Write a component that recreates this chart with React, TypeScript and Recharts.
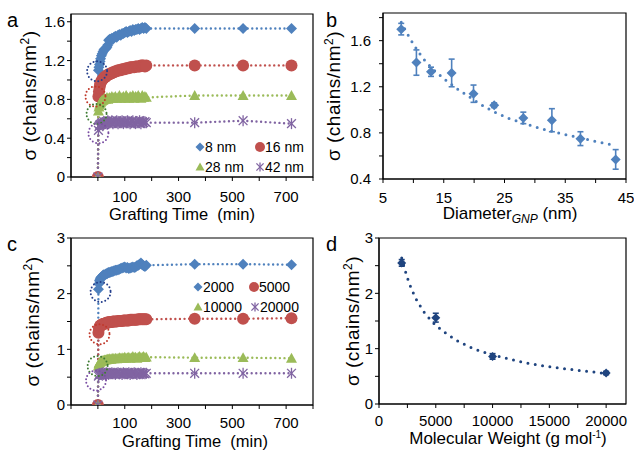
import React from "react";
import {
  ComposedChart,
  ErrorBar,
  Line,
  ReferenceArea,
  ReferenceDot,
  Scatter,
  XAxis,
  YAxis,
} from "recharts";

const FONT = "'Liberation Sans', Arial, Helvetica, sans-serif";

// a + c : grafting kinetics (min)
const graftTime = [
  0, 2, 4, 6, 8, 10, 13, 16, 19, 22, 25, 28, 31, 34, 37, 40,
  44, 48, 52, 56, 60,
  65, 70, 75, 80, 85, 90, 95, 100, 105, 110, 115, 120, 125, 130, 135, 140, 145, 150, 155, 160, 165, 170, 175, 180,
  360, 540, 720,
];

// a : GNP diameter series
const sigma8nm = [
  0, 1.1, 1.13, 1.16, 1.19, 1.22, 1.25, 1.27, 1.29, 1.31, 1.32, 1.32, 1.33, 1.34, 1.36, 1.41,
  1.42, 1.42, 1.43, 1.42, 1.44,
  1.45, 1.44, 1.46, 1.47, 1.46, 1.48, 1.48, 1.49, 1.5, 1.49, 1.5, 1.51, 1.5, 1.52, 1.51, 1.52, 1.52, 1.53, 1.52, 1.53, 1.54, 1.53, 1.54, 1.53,
  1.53, 1.53, 1.53,
];
const sigma16nm = [
  0, 0.83, 0.88, 0.92, 0.95, 0.97, 0.99, 1.0, 1.01, 1.02, 1.03, 1.03, 1.04, 1.05, 1.05, 1.06,
  1.06, 1.07, 1.07, 1.08, 1.08,
  1.09, 1.09, 1.1, 1.1, 1.1, 1.11, 1.11, 1.11, 1.12, 1.12, 1.12, 1.13, 1.13, 1.13, 1.13, 1.14, 1.14, 1.14, 1.14, 1.15, 1.15, 1.15, 1.14, 1.15,
  1.15, 1.15, 1.15,
];
const sigma28nm = [
  0, 0.68, 0.72, 0.74, 0.76, 0.77, 0.78, 0.79, 0.79, 0.8, 0.81, 0.8, 0.81, 0.82, 0.8, 0.81,
  0.82, 0.81, 0.83, 0.81, 0.82,
  0.83, 0.81, 0.82, 0.84, 0.81, 0.82, 0.83, 0.81, 0.84, 0.82, 0.81, 0.83, 0.82, 0.84, 0.81, 0.83, 0.82, 0.84, 0.82, 0.81, 0.84, 0.82, 0.83, 0.82,
  0.84, 0.84, 0.84,
];
const sigma42nm = [
  0, 0.48, 0.52, 0.53, 0.54, 0.54, 0.55, 0.56, 0.55, 0.57, 0.56, 0.55, 0.57, 0.56, 0.58, 0.55,
  0.57, 0.56, 0.58, 0.55, 0.57,
  0.56, 0.58, 0.55, 0.57, 0.56, 0.58, 0.55, 0.57, 0.56, 0.58, 0.56, 0.55, 0.57, 0.58, 0.56, 0.55, 0.57, 0.56, 0.58, 0.55, 0.57, 0.56, 0.57, 0.56,
  0.56, 0.58, 0.55,
];

// c : PEG molecular weight series
const sigma2000 = [
  0, 2.08, 2.18, 2.23, 2.26, 2.28, 2.3, 2.31, 2.33, 2.34, 2.33, 2.35, 2.36, 2.36, 2.37, 2.38,
  2.38, 2.39, 2.4, 2.4, 2.41,
  2.42, 2.42, 2.43, 2.44, 2.45, 2.46, 2.47, 2.48, 2.46, 2.47, 2.45, 2.46, 2.47, 2.48, 2.47, 2.48, 2.5, 2.51, 2.53, 2.55, 2.52, 2.5, 2.49, 2.51,
  2.53, 2.53, 2.52,
];
const sigma5000 = [
  0, 1.3, 1.37, 1.4, 1.42, 1.43, 1.44, 1.45, 1.45, 1.46, 1.46, 1.47, 1.47, 1.48, 1.48, 1.48,
  1.49, 1.49, 1.49, 1.5, 1.5,
  1.5, 1.5, 1.51, 1.51, 1.51, 1.51, 1.52, 1.52, 1.52, 1.52, 1.52, 1.53, 1.53, 1.53, 1.53, 1.53, 1.53, 1.54, 1.54, 1.54, 1.54, 1.54, 1.54, 1.54,
  1.55, 1.55, 1.56,
];
const sigma10000 = [
  0, 0.7, 0.74, 0.76, 0.77, 0.78, 0.79, 0.79, 0.8, 0.8, 0.81, 0.81, 0.81, 0.82, 0.82, 0.82,
  0.83, 0.82, 0.83, 0.84, 0.83,
  0.84, 0.83, 0.84, 0.85, 0.84, 0.85, 0.84, 0.86, 0.84, 0.85, 0.86, 0.84, 0.85, 0.87, 0.85, 0.86, 0.84, 0.86, 0.87, 0.85, 0.86, 0.87, 0.85, 0.86,
  0.85, 0.85, 0.84,
];
const sigma20000 = [
  0, 0.52, 0.54, 0.55, 0.56, 0.55, 0.57, 0.56, 0.58, 0.55, 0.57, 0.56, 0.58, 0.56, 0.57, 0.55,
  0.57, 0.56, 0.58, 0.56, 0.57,
  0.55, 0.57, 0.58, 0.56, 0.57, 0.55, 0.58, 0.56, 0.57, 0.56, 0.58, 0.55, 0.57, 0.56, 0.58, 0.57, 0.55, 0.57, 0.56, 0.58, 0.56, 0.57, 0.56, 0.57,
  0.57, 0.57, 0.57,
];

const timeTicks = [-100, 0, 100, 200, 300, 400, 500, 600, 700, 800];
const timeTickLabels = ["", "", "100", "", "300", "", "500", "", "700", ""];
const sigmaTicksA = [0, 0.2, 0.4, 0.6, 0.8, 1, 1.2, 1.4, 1.6];
const sigmaTickLabelsA = ["0", "", "0.4", "", "0.8", "", "1.2", "", "1.6"];
const sigmaTicksC = [0, 0.5, 1, 1.5, 2, 2.5, 3];
const sigmaTickLabelsC = ["0", "", "1", "", "2", "", "3"];

// dotted rings around the first grafting points
const ringTimeA = [-3, -9, -5, 2];
const ringSigmaA = [1.09, 0.83, 0.65, 0.45];
const ringTimeC = [10, 6, -1, -7];
const ringSigmaC = [2.03, 1.27, 0.7, 0.44];

// b : density vs GNP diameter
const diameter = [8.0, 10.5, 12.9, 16.3, 19.9, 23.3, 28.1, 32.8, 37.5, 43.3];
const sigmaDiam = [1.7, 1.41, 1.33, 1.32, 1.14, 1.04, 0.93, 0.91, 0.75, 0.57];
const sigmaDiamErr = [0.05, 0.11, 0.04, 0.12, 0.075, 0.02, 0.05, 0.1, 0.06, 0.085];
const fitDiameter = [8, 9, 10, 11, 12, 13.5, 15, 17, 19, 21, 23, 25.5, 28, 30.5, 33, 35.5, 38, 40.5, 42.5];
const fitSigmaDiam = [1.76, 1.66, 1.57, 1.49, 1.42, 1.34, 1.27, 1.19, 1.12, 1.05, 0.99, 0.93, 0.885, 0.845, 0.81, 0.78, 0.75, 0.72, 0.7];
const diamTicks = [5, 10, 15, 20, 25, 30, 35, 40, 45];
const diamTickLabels = ["5", "", "15", "", "25", "", "35", "", "45"];
const sigmaTicksB = [0.4, 0.6, 0.8, 1, 1.2, 1.4, 1.6, 1.8];
const sigmaTickLabelsB = ["0.4", "", "0.8", "", "1.2", "", "1.6", ""];

// d : density vs molecular weight
const molWeight = [2000, 5000, 10000, 20000];
const sigmaMw = [2.55, 1.56, 0.86, 0.56];
const sigmaMwErr = [0.06, 0.08, 0.05, 0.03];
const fitMw = [2000, 2250, 2500, 2800, 3200, 3600, 4000, 4500, 5000, 6000, 7000, 8000, 9000, 10000, 11500, 13000, 14500, 16000, 17500, 19000, 20000];
const fitSigmaMw = [2.64, 2.45, 2.28, 2.11, 1.92, 1.78, 1.65, 1.53, 1.42, 1.26, 1.13, 1.03, 0.95, 0.89, 0.81, 0.74, 0.69, 0.645, 0.61, 0.575, 0.55];
const mwTicks = [0, 2500, 5000, 7500, 10000, 12500, 15000, 17500, 20000];
const mwTickLabels = ["0", "", "5000", "", "10000", "", "15000", "", "20000"];

const BLUE = "#4F81BD";
const RED = "#C0504D";
const GREEN = "#9BBB59";
const PURPLE = "#8064A2";
const NAVY = "#1F447F";

type Shape = "diamond" | "circle" | "triangle" | "star";

function Marker({ shape, cx, cy, color, s }: { shape: Shape; cx: number; cy: number; color: string; s: number }) {
  if (cx == null || cy == null) return null;
  if (shape === "diamond")
    return <polygon points={`${cx},${cy - s} ${cx + s},${cy} ${cx},${cy + s} ${cx - s},${cy}`} fill={color} />;
  if (shape === "circle") return <circle cx={cx} cy={cy} r={s + 0.5} fill={color} />;
  if (shape === "triangle")
    return <polygon points={`${cx},${cy - s} ${cx + s},${cy + s * 0.8} ${cx - s},${cy + s * 0.8}`} fill={color} />;
  const d = s * 0.8;
  return (
    <g stroke={color} strokeWidth={1.3}>
      <line x1={cx - d} y1={cy - d} x2={cx + d} y2={cy + d} />
      <line x1={cx - d} y1={cy + d} x2={cx + d} y2={cy - d} />
      <line x1={cx} y1={cy - s} x2={cx} y2={cy + s} />
    </g>
  );
}

const pts = (xs: number[], ys: number[], es?: number[]) =>
  xs.map((x, i) => ({ x, y: ys[i], e: es ? es[i] : 0 }));

const fmt = (ticks: number[], labels: string[]) => (v: number) => labels[ticks.indexOf(v)] ?? "";

const tickStyle = { fill: "#000", fontSize: 15, fontFamily: FONT };

const xTitle = (content: React.ReactNode, dy: number, dx: number, size: number) => (props: any) => {
  const { x, y, width } = props.viewBox;
  return (
    <text x={x + width / 2 + dx} y={y + dy} textAnchor="middle" fontFamily={FONT} fontSize={size} fill="#000">
      {content}
    </text>
  );
};

const yTitle = (bx: number) => (props: any) => {
  const { y, height } = props.viewBox;
  const cy = y + height / 2;
  return (
    <text
      x={bx}
      y={cy}
      transform={`rotate(-90 ${bx} ${cy})`}
      textAnchor="middle"
      fontFamily={FONT}
      fontSize={19}
      letterSpacing={0.5}
      fill="#000"
    >
      σ (chains/nm<tspan dy={-7} fontSize={12}>2</tspan>
      <tspan dy={7}>)</tspan>
    </text>
  );
};

type KSeries = { values: number[]; color: string; shape: Shape; ring: string };

function KineticsPanel({
  top,
  marginTop,
  axisHeight,
  series,
  yMax,
  yTicks,
  yLabels,
  ringT,
  ringS,
  titleDy,
  titleDx,
  tickMargin,
  labelX,
}: {
  top: number;
  marginTop: number;
  axisHeight: number;
  series: KSeries[];
  yMax: number;
  yTicks: number[];
  yLabels: string[];
  ringT: number[];
  ringS: number[];
  titleDy: number;
  titleDx: number;
  tickMargin: number;
  labelX: number;
}) {
  return (
    <div style={{ position: "absolute", left: 0, top, width: 317, height: 225 }}>
      <ComposedChart width={317} height={225} margin={{ top: marginTop, right: 4, bottom: 0, left: 0 }}>
        <XAxis
          type="number"
          dataKey="x"
          domain={[-100, 800]}
          ticks={timeTicks}
          interval={0}
          allowDataOverflow
          tickFormatter={fmt(timeTicks, timeTickLabels)}
          height={axisHeight}
          stroke="#000"
          tick={tickStyle}
          tickSize={4}
          tickMargin={tickMargin}
          label={xTitle("Grafting Time\u00a0 (min)", titleDy, titleDx, 16.5)}
        />
        <YAxis
          type="number"
          dataKey="y"
          domain={[0, yMax]}
          ticks={yTicks}
          interval={0}
          allowDataOverflow
          tickFormatter={fmt(yTicks, yLabels)}
          width={71}
          stroke="#000"
          tick={tickStyle}
          tickSize={4}
          tickMargin={2}
          label={yTitle(labelX)}
        />
        <ReferenceArea x1={-100} x2={800} y1={0} y2={yMax} fill="none" stroke="#000" strokeWidth={1.2} />
        {series.map((s, k) => (
          <Line
            key={k}
            data={pts(graftTime, s.values)}
            dataKey="y"
            type="linear"
            stroke={s.color}
            strokeWidth={2.4}
            strokeDasharray="0 4.6"
            strokeLinecap="round"
            isAnimationActive={false}
            dot={(p: any) => <Marker key={`m${k}-${p.index}`} shape={s.shape} cx={p.cx} cy={p.cy} color={s.color} s={5.5} />}
            activeDot={false}
          />
        ))}
        {series.map((s, k) => (
          <ReferenceDot
            key={`r${k}`}
            x={ringT[k]}
            y={ringS[k]}
            r={10}
            fill="none"
            stroke={s.ring}
            strokeWidth={2}
            strokeDasharray="0 3.6"
            strokeLinecap="round"
          />
        ))}
      </ComposedChart>
    </div>
  );
}

const seriesA: KSeries[] = [
  { values: sigma8nm, color: BLUE, shape: "diamond", ring: "#243F8C" },
  { values: sigma16nm, color: RED, shape: "circle", ring: "#C0392B" },
  { values: sigma28nm, color: GREEN, shape: "triangle", ring: "#3E7B33" },
  { values: sigma42nm, color: PURPLE, shape: "star", ring: "#7A4EA3" },
];
const seriesC: KSeries[] = [
  { values: sigma2000, color: BLUE, shape: "diamond", ring: "#243F8C" },
  { values: sigma5000, color: RED, shape: "circle", ring: "#C0392B" },
  { values: sigma10000, color: GREEN, shape: "triangle", ring: "#3E7B33" },
  { values: sigma20000, color: PURPLE, shape: "star", ring: "#7A4EA3" },
];

function FitPanel({
  top,
  yAxisWidth,
  xDomain,
  xTicks,
  xLabels,
  yDomain,
  yTicks,
  yLabels,
  xs,
  ys,
  es,
  fx,
  fy,
  color,
  size,
  title,
  tickMarginX,
  tickMarginY,
  labelX,
}: any) {
  return (
    <div style={{ position: "absolute", left: 317, top, width: 317, height: 225 }}>
      <ComposedChart width={317} height={225} margin={{ top: 13, right: 8, bottom: 0, left: 0 }}>
        <XAxis
          type="number"
          dataKey="x"
          domain={xDomain}
          ticks={xTicks}
          interval={0}
          allowDataOverflow
          tickFormatter={fmt(xTicks, xLabels)}
          height={46}
          stroke="#000"
          tick={tickStyle}
          tickSize={4}
          tickMargin={tickMarginX}
          label={xTitle(title, 40, 5.5, 17)}
        />
        <YAxis
          type="number"
          dataKey="y"
          domain={yDomain}
          ticks={yTicks}
          interval={0}
          allowDataOverflow
          tickFormatter={fmt(yTicks, yLabels)}
          width={yAxisWidth}
          stroke="#000"
          tick={tickStyle}
          tickSize={4}
          tickMargin={tickMarginY}
          label={yTitle(labelX)}
        />
        <ReferenceArea x1={xDomain[0]} x2={xDomain[1]} y1={yDomain[0]} y2={yDomain[1]} fill="none" stroke="#000" strokeWidth={1.2} />
        <Line
          data={pts(fx, fy)}
          dataKey="y"
          type="linear"
          stroke={color}
          strokeWidth={3}
          strokeDasharray="0 7.4"
          strokeLinecap="round"
          dot={false}
          activeDot={false}
          isAnimationActive={false}
        />
        <Scatter
          data={pts(xs, ys, es)}
          dataKey="y"
          fill={color}
          isAnimationActive={false}
          shape={(p: any) => <Marker shape="diamond" cx={p.cx} cy={p.cy} color={color} s={size} />}
        >
          <ErrorBar dataKey="e" direction="y" width={3} stroke={color} strokeWidth={1.6} />
        </Scatter>
      </ComposedChart>
    </div>
  );
}

function LegendItem({ x, y, shape, color, text }: { x: number; y: number; shape: Shape; color: string; text: string }) {
  return (
    <g>
      <Marker shape={shape} cx={x} cy={y} color={color} s={shape === "circle" ? 4.5 : 4.5} />
      <text x={x + 5} y={y + 5} fontSize={14} fontFamily={FONT} fill="#000">
        {text}
      </text>
    </g>
  );
}

export default function App() {
  return (
    <div style={{ position: "relative", width: 634, height: 450, background: "#fff", overflow: "hidden" }}>
      <style>{"body{margin:0}"}</style>
      <KineticsPanel
        top={0}
        marginTop={14}
        axisHeight={48}
        series={seriesA}
        yMax={1.68}
        yTicks={sigmaTicksA}
        yLabels={sigmaTickLabelsA}
        ringT={ringTimeA}
        ringS={ringSigmaA}
        titleDy={43}
        titleDx={-10}
        tickMargin={10}
        labelX={36}
      />
      <KineticsPanel
        top={225}
        marginTop={13}
        axisHeight={45}
        series={seriesC}
        yMax={3}
        yTicks={sigmaTicksC}
        yLabels={sigmaTickLabelsC}
        ringT={ringTimeC}
        ringS={ringSigmaC}
        titleDy={42}
        titleDx={3}
        tickMargin={8}
        labelX={39}
      />
      <FitPanel
        top={0}
        yAxisWidth={66}
        xDomain={[5, 45]}
        xTicks={diamTicks}
        xLabels={diamTickLabels}
        yDomain={[0.4, 1.84]}
        yTicks={sigmaTicksB}
        yLabels={sigmaTickLabelsB}
        xs={diameter}
        ys={sigmaDiam}
        es={sigmaDiamErr}
        fx={fitDiameter}
        fy={fitSigmaDiam}
        color={BLUE}
        size={5}
        tickMarginX={9}
        tickMarginY={8}
        labelX={23}
        title={
          <>
            Diameter
            <tspan dy={4} fontSize={12} fontStyle="italic">
              GNP
            </tspan>
            <tspan dy={-4}> (nm)</tspan>
          </>
        }
      />
      <FitPanel
        top={225}
        yAxisWidth={62}
        xDomain={[0, 21750]}
        xTicks={mwTicks}
        xLabels={mwTickLabels}
        yDomain={[0, 3]}
        yTicks={sigmaTicksC}
        yLabels={sigmaTickLabelsC}
        xs={molWeight}
        ys={sigmaMw}
        es={sigmaMwErr}
        fx={fitMw}
        fy={fitSigmaMw}
        color={NAVY}
        size={4.5}
        tickMarginX={7}
        tickMarginY={2}
        labelX={42}
        title={
          <>
            Molecular Weight (g mol
            <tspan dy={-6} fontSize={10}>
              -1
            </tspan>
            <tspan dy={6}>)</tspan>
          </>
        }
      />
      <svg width={634} height={450} style={{ position: "absolute", left: 0, top: 0, pointerEvents: "none" }}>
        <g fontFamily={FONT} fontSize={20} fill="#000">
          <text x={7} y={27}>a</text>
          <text x={326} y={27}>b</text>
          <text x={7} y={251}>c</text>
          <text x={326} y={251}>d</text>
        </g>
        <LegendItem x={200} y={147} shape="diamond" color={BLUE} text="8 nm" />
        <LegendItem x={260} y={147} shape="circle" color={RED} text="16 nm" />
        <LegendItem x={200} y={167} shape="triangle" color={GREEN} text="28 nm" />
        <LegendItem x={260} y={167} shape="star" color={PURPLE} text="42 nm" />
        <LegendItem x={198} y={287} shape="diamond" color={BLUE} text="2000" />
        <LegendItem x={254} y={287} shape="circle" color={RED} text="5000" />
        <LegendItem x={198} y={307} shape="triangle" color={GREEN} text="10000" />
        <LegendItem x={255} y={307} shape="star" color={PURPLE} text="20000" />
      </svg>
    </div>
  );
}
